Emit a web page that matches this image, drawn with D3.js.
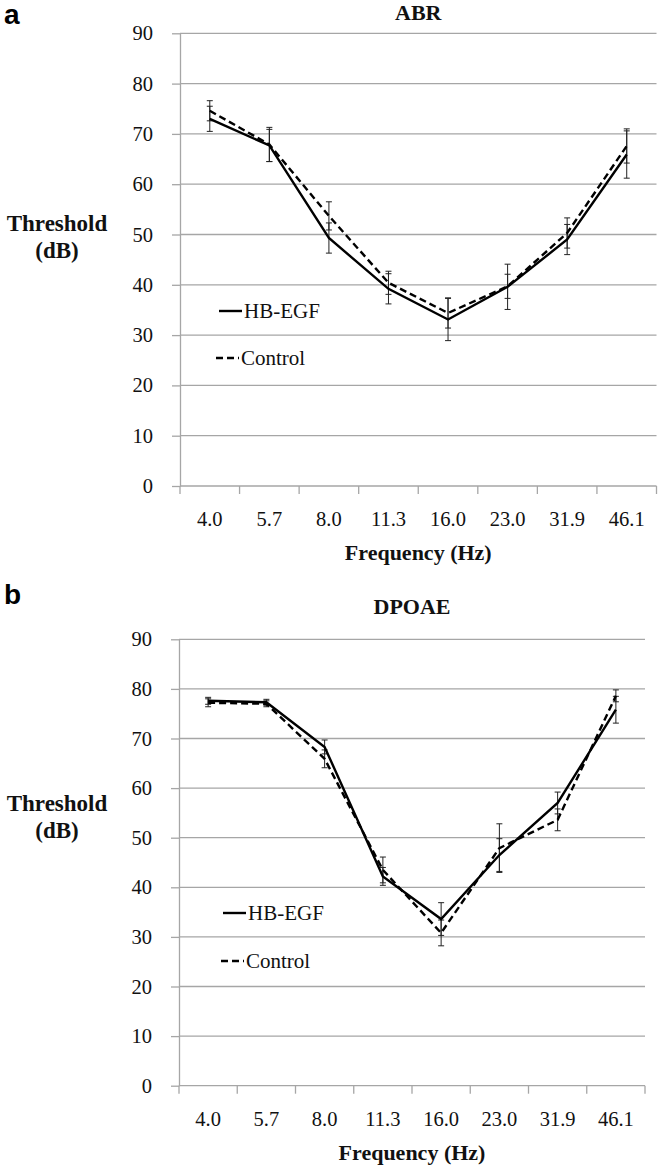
<!DOCTYPE html>
<html>
<head>
<meta charset="utf-8">
<script src="https://cdn.jsdelivr.net/npm/d3@7"></script>
<style>
  html, body { margin: 0; padding: 0; background: #fff; }
  svg { display: block; }
</style>
</head>
<body>
<svg id="chart" width="660" height="1165"></svg>
<script>
// ---------- data ----------
const categories = ["4.0", "5.7", "8.0", "11.3", "16.0", "23.0", "31.9", "46.1"];
const yTicks = [0, 10, 20, 30, 40, 50, 60, 70, 80, 90];
const seriesNames = ["HB-EGF", "Control"];

const abrHB      = [73.0, 67.7, 49.3, 39.2, 33.1, 39.6, 49.0, 65.9];
const abrHBErr   = [2.5, 3.2, 3.0, 3.0, 4.2, 4.5, 3.0, 4.7];
const abrCtrl    = [74.6, 67.9, 53.7, 40.4, 34.4, 39.7, 50.3, 67.6];
const abrCtrlErr = [2.0, 3.4, 2.8, 2.3, 3.0, 2.4, 3.0, 3.4];

const dpHB       = [77.6, 77.3, 68.3, 42.2, 33.6, 46.5, 57.0, 75.8];
const dpHBErr    = [0.7, 0.6, 1.4, 1.8, 3.3, 3.3, 2.2, 2.7];
const dpCtrl     = [77.2, 77.0, 65.9, 43.5, 30.8, 47.9, 53.6, 78.6];
const dpCtrlErr  = [0.8, 0.6, 1.8, 2.6, 2.6, 4.9, 2.2, 1.2];

// ---------- drawing ----------
const SERIF = "'Liberation Serif', 'Times New Roman', 'DejaVu Serif', serif";
const SANS = "'Liberation Sans', Arial, 'DejaVu Sans', sans-serif";
const svg = d3.select("#chart");
svg.append("rect").attr("width", 660).attr("height", 1165).attr("fill", "#fff");

function txt(sel) { return sel.style("font-family", SERIF).style("fill", "#111"); }

function panel(cfg) {
  const g = svg.append("g");
  const x = d3.scaleBand().domain(categories).range([cfg.x0, cfg.x1]).padding(0);
  const y = d3.scaleLinear().domain([0, 90]).range([cfg.yBottom, cfg.yTop]);
  const cx = c => x(c) + x.bandwidth() / 2;

  // gridlines
  g.selectAll(".grid").data(yTicks.filter(v => v > 0)).join("line")
    .attr("x1", cfg.x0).attr("x2", cfg.x1)
    .attr("y1", d => y(d)).attr("y2", d => y(d))
    .attr("stroke", "#a6a6a6").attr("stroke-width", 1.3);

  // y axis
  const ya = g.append("g").attr("transform", `translate(${cfg.x0},0)`)
    .call(d3.axisLeft(y).tickValues(yTicks).tickSize(8).tickPadding(19).tickSizeOuter(0));
  ya.select(".domain").attr("stroke", "#a6a6a6").attr("stroke-width", 1.3);
  ya.selectAll(".tick line").attr("stroke", "#a6a6a6").attr("stroke-width", 1.3);
  txt(ya.selectAll(".tick text")).style("font-size", "20.5px");

  // x axis
  g.append("line").attr("x1", cfg.x0).attr("x2", cfg.x1)
    .attr("y1", y(0)).attr("y2", y(0)).attr("stroke", "#a6a6a6").attr("stroke-width", 1.3);
  const edges = categories.map(c => x(c)).concat([cfg.x1]);
  g.selectAll(".xt").data(edges).join("line")
    .attr("x1", d => d).attr("x2", d => d)
    .attr("y1", y(0)).attr("y2", y(0) + 8)
    .attr("stroke", "#a6a6a6").attr("stroke-width", 1.3);
  txt(g.selectAll(".xl").data(categories).join("text")
    .attr("x", d => cx(d)).attr("y", y(0) + 40)
    .attr("text-anchor", "middle").text(d => d)).style("font-size", "20.5px");

  // axis titles
  txt(g.append("text").attr("x", (cfg.x0 + cfg.x1) / 2).attr("y", y(0) + 74)
    .attr("text-anchor", "middle").text("Frequency (Hz)"))
    .style("font-size", "22px").style("font-weight", "bold");
  const yt = txt(g.append("text").attr("text-anchor", "middle"))
    .style("font-size", "23px").style("font-weight", "bold");
  yt.append("tspan").attr("x", 57).attr("y", cfg.thrY).text("Threshold");
  yt.append("tspan").attr("x", 57).attr("y", cfg.thrY + 27).text("(dB)");

  // title and panel letter
  txt(g.append("text").attr("x", (cfg.x0 + cfg.x1) / 2).attr("y", cfg.titleY)
    .attr("text-anchor", "middle").text(cfg.title))
    .style("font-size", "22px").style("font-weight", "bold");
  g.append("text").attr("x", 4).attr("y", cfg.letterY)
    .style("font-family", SANS).style("fill", "#000")
    .style("font-size", "28px").style("font-weight", "bold").text(cfg.letter);

  const series = [
    { vals: cfg.hb, err: cfg.hbErr, dash: null },
    { vals: cfg.ctrl, err: cfg.ctrlErr, dash: "7,4" }
  ];

  // error bars
  series.forEach(s => {
    const eb = g.append("g");
    categories.forEach((c, i) => {
      const xc = cx(c), lo = y(s.vals[i] - s.err[i]), hi = y(s.vals[i] + s.err[i]);
      eb.append("line").attr("x1", xc).attr("x2", xc).attr("y1", lo).attr("y2", hi)
        .attr("stroke", "#222").attr("stroke-width", 1);
      [lo, hi].forEach(yy => eb.append("line").attr("x1", xc - 3).attr("x2", xc + 3)
        .attr("y1", yy).attr("y2", yy).attr("stroke", "#222").attr("stroke-width", 1));
    });
  });

  // lines
  const line = d3.line().x((d, i) => cx(categories[i])).y(d => y(d));
  series.forEach(s => {
    g.append("path").datum(s.vals).attr("d", line)
      .attr("fill", "none").attr("stroke", "#000").attr("stroke-width", 2.4)
      .attr("stroke-linejoin", "miter")
      .attr("stroke-dasharray", s.dash);
  });

  // legend
  seriesNames.forEach((name, i) => {
    const ly = cfg.legY[i];
    g.append("line").attr("x1", cfg.legX[i]).attr("x2", cfg.legX[i] + 23)
      .attr("y1", ly).attr("y2", ly).attr("stroke", "#000").attr("stroke-width", 2.4)
      .attr("stroke-dasharray", series[i].dash);
    txt(g.append("text").attr("x", cfg.legX[i] + 25).attr("y", ly).attr("dy", "0.34em")
      .text(name)).style("font-size", "21px");
  });
}

panel({
  x0: 180, x1: 656.5, yTop: 33.3, yBottom: 486,
  hb: abrHB, hbErr: abrHBErr, ctrl: abrCtrl, ctrlErr: abrCtrlErr,
  title: "ABR", titleY: 20, letter: "a", letterY: 24, thrY: 231,
  legX: [219, 216], legY: [311, 358]
});
panel({
  x0: 179, x1: 645, yTop: 639.3, yBottom: 1085.7,
  hb: dpHB, hbErr: dpHBErr, ctrl: dpCtrl, ctrlErr: dpCtrlErr,
  title: "DPOAE", titleY: 614, letter: "b", letterY: 604, thrY: 811,
  legX: [223, 221], legY: [913, 961]
});
</script>
</body>
</html>
